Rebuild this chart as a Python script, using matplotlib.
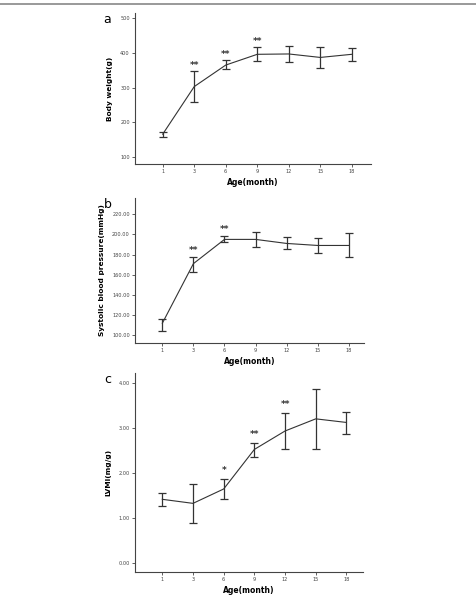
import matplotlib
matplotlib.use('Agg')
import matplotlib.pyplot as plt
from matplotlib.lines import Line2D

months = ['1', '3', '6', '9', '12', '15', '18']

# panel a: body weight (g)
bw_mean = [166, 303, 365, 396, 397, 387, 396]
bw_hi = [173, 347, 379, 416, 419, 416, 415]
bw_lo = [159, 258, 353, 377, 375, 357, 377]
bw_stars = ['', '**', '**', '**', '', '', '']

# panel b: systolic blood pressure (mmHg)
sbp_mean = [112, 171, 195, 195, 191, 189, 189]
sbp_hi = [116, 178, 198, 202.5, 197, 196, 201]
sbp_lo = [104, 163, 192, 187, 185, 182, 178]
sbp_stars = ['', '**', '**', '', '', '', '']

# panel c: LVMI (mg/g)
lvmi_mean = [1.41, 1.32, 1.64, 2.52, 2.93, 3.20, 3.12]
lvmi_hi = [1.56, 1.76, 1.87, 2.67, 3.33, 3.86, 3.36]
lvmi_lo = [1.27, 0.88, 1.41, 2.35, 2.53, 2.53, 2.87]
lvmi_stars = ['', '', '*', '**', '**', '', '']

W, H = 477, 606
fig = plt.figure(figsize=(W / 100, H / 100), dpi=100)
fig.add_artist(Line2D([0, 1], [1 - 3.5 / H, 1 - 3.5 / H], color='#888888', lw=1.2))

def px_axes(left, right, top, bottom):
    return fig.add_axes([left / W, 1 - bottom / H, (right - left) / W, (bottom - top) / H])

def panel(ax, mean, lo, hi, stars, yticks, fmt, ylim, xlim, ylabel, letter, star_gap):
    x = list(range(len(months)))
    err = [[m - l for m, l in zip(mean, lo)], [h - m for m, h in zip(mean, hi)]]
    ax.errorbar(x, mean, yerr=err, color='#333333', lw=0.8, elinewidth=0.9,
                capsize=3.2, capthick=0.9)
    for xi, h, s in zip(x, hi, stars):
        if s:
            ax.text(xi, h + star_gap, s, ha='center', va='bottom', fontsize=6.5,
                    fontweight='bold', color='#333333')
    ax.set_xlim(*xlim)
    ax.set_ylim(*ylim)
    ax.set_xticks(x)
    ax.set_xticklabels(months)
    ax.set_yticks(yticks)
    ax.set_yticklabels([fmt % v for v in yticks])
    for s in ['top', 'right']:
        ax.spines[s].set_visible(False)
    for s in ['left', 'bottom']:
        ax.spines[s].set_color('#444444')
        ax.spines[s].set_linewidth(0.8)
    ax.tick_params(labelsize=3.6, length=2.2, width=0.6, color='#444444',
                   labelcolor='#444444', pad=1.5)
    ax.set_xlabel('Age(month)', fontsize=5.5, fontweight='bold', labelpad=3)
    ax.set_ylabel(ylabel, fontsize=5.3, fontweight='bold', labelpad=5)
    ax.text(-0.12, 1.0, letter, transform=ax.transAxes, fontsize=9, ha='center', va='top')

ax_a = px_axes(135, 371, 13, 164)
panel(ax_a, bw_mean, bw_lo, bw_hi, bw_stars, [100, 200, 300, 400, 500], '%d',
      (80, 515), (-0.88, 6.61), 'Body weight(g)', 'a', 4)

ax_b = px_axes(135, 364, 198, 343)
panel(ax_b, sbp_mean, sbp_lo, sbp_hi, sbp_stars, [100, 120, 140, 160, 180, 200, 220], '%.2f',
      (92.4, 236), (-0.88, 6.49), 'Systolic blood pressure(mmHg)', 'b', 2)

ax_c = px_axes(135, 363, 373, 572)
panel(ax_c, lvmi_mean, lvmi_lo, lvmi_hi, lvmi_stars, [0, 1, 2, 3, 4], '%.2f',
      (-0.207, 4.22), (-0.89, 6.54), 'LVMI(mg/g)', 'c', 0.08)

fig.savefig('out.png', dpi=100)
